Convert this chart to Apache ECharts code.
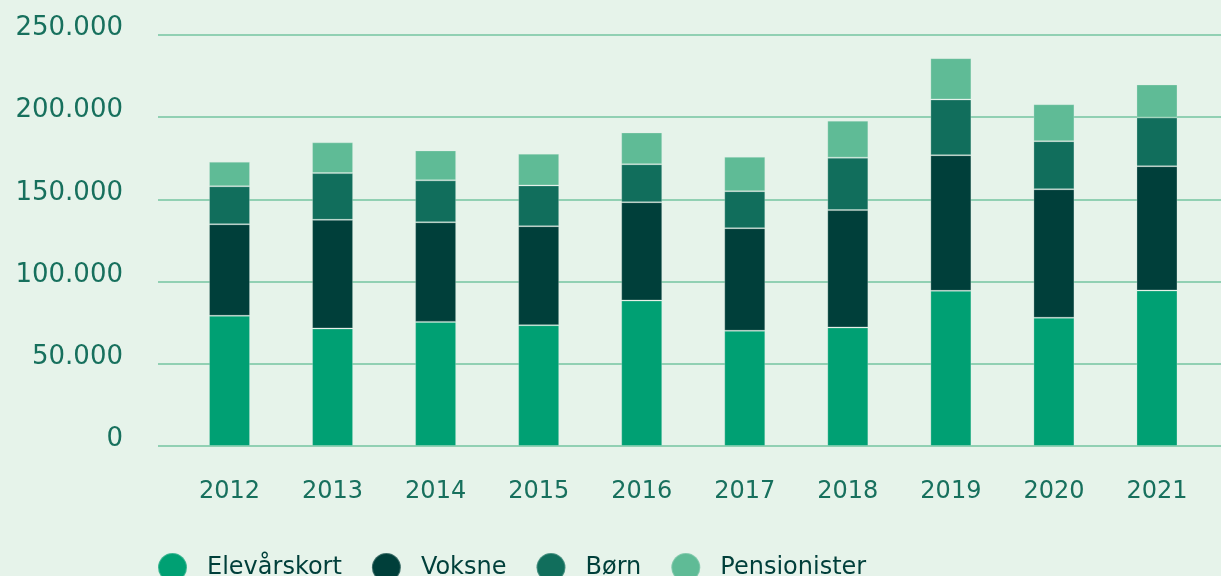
<!DOCTYPE html>
<html>
<head>
<meta charset="utf-8">
<script src="https://cdn.jsdelivr.net/npm/echarts@6/dist/echarts.min.js"></script>
<style>
html,body{margin:0;padding:0;background:#e6f3ea;}
#chart{width:1221px;height:576px;}
</style>
</head>
<body>
<div id="chart"></div>
<script>
const years = ['2012','2013','2014','2015','2016','2017','2018','2019','2020','2021'];
const elevarskort = [79200, 71500, 75500, 73500, 88500, 70100, 72100, 94400, 78000, 94600];
const voksne      = [55700, 66100, 60600, 60200, 59800, 62400, 71400, 82500, 78200, 75600];
const born        = [23100, 28400, 25500, 24800, 23100, 22500, 31900, 33900, 29200, 29600];
const pensionister= [14900, 18700, 18200, 19300, 19300, 20900, 22500, 25100, 22500, 20100];
const yTicks = [0, 50000, 100000, 150000, 200000, 250000];

const fontFam = '"DejaVu Sans", sans-serif';
const labelColor = '#17705d';
const gridColor = '#74c4a0';

function fmt(v){ return String(v).replace(/\B(?=(\d{3})+(?!\d))/g, '.'); }

const chart = echarts.init(document.getElementById('chart'));
const names = ['Elevårskort','Voksne','Børn','Pensionister'];
const colors = ['#00a073','#003f3a','#116e5c','#5fbb96'];
const datas = [elevarskort, voksne, born, pensionister];

chart.setOption({
  backgroundColor: '#e6f3ea',
  animation: false,
  legend: {
    data: names.map((n,i)=>({name:n, itemStyle:{color:colors[i]}})),
    left: 157, top: 552, padding: 0,
    icon: 'circle', itemWidth: 29, itemHeight: 29, itemGap: 29,
    textStyle: { fontFamily: fontFam, fontSize: 24, color: '#003f3a', padding:[0,0,0,15] }
  },
  grid: [
    { left: 158, right: 0, top: 35, bottom: 130 },
    { left: 178, right: 12.5, top: 35, bottom: 130 }
  ],
  xAxis: [
    { type: 'category', gridIndex: 0, data: years, show: false },
    { type: 'category', gridIndex: 1, data: years,
      axisLine: { show: false }, axisTick: { show: false },
      axisLabel: { margin: 34, fontFamily: fontFam, fontSize: 24, color: labelColor } }
  ],
  yAxis: [
    { type: 'value', gridIndex: 0, min: 0, max: 250000, interval: 50000,
      axisLine: { show: false }, axisTick: { show: false },
      splitLine: { lineStyle: { color: gridColor, width: 1.5 } },
      axisLabel: { margin: 35, fontFamily: fontFam, fontSize: 26, color: labelColor,
        verticalAlign: 'bottom', lineHeight: 13,
        formatter: v => yTicks.indexOf(v) >= 0 ? fmt(v) : '' } },
    { type: 'value', gridIndex: 1, min: 0, max: 250000, interval: 50000, show: false }
  ],
  series: datas.map((d,i)=>({
    name: names[i], type: 'bar', stack: 'total', xAxisIndex: 1, yAxisIndex: 1,
    barWidth: 41, data: d,
    itemStyle: { color: colors[i], borderColor: 'rgba(230,243,234,0.25)', borderWidth: 1 }
  }))
});
</script>
</body>
</html>
